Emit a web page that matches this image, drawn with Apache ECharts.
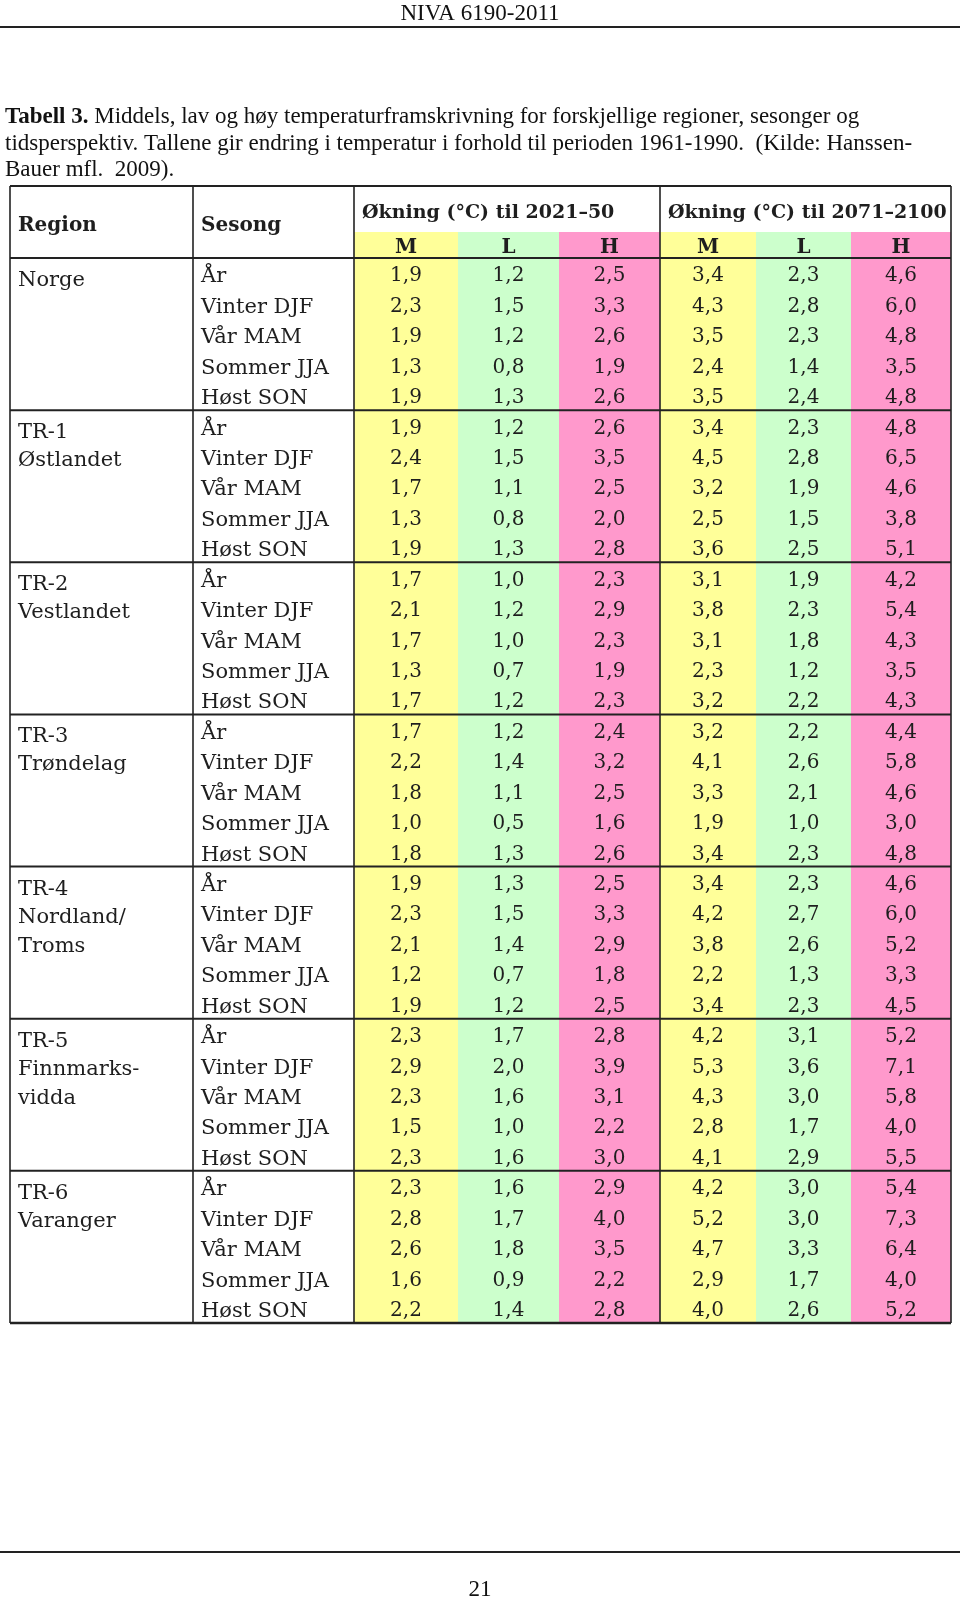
<!DOCTYPE html>
<html>
<head>
<meta charset="utf-8">
<script src="https://cdn.jsdelivr.net/npm/echarts@6.0.0/dist/echarts.min.js"></script>
<style>
  html, body { margin: 0; padding: 0; background: #fff; }
  #chart { width: 960px; height: 1597px; }
</style>
</head>
<body>
<div id="chart"></div>
<script>
// Tabell 3 - temperaturframskrivning (endring i forhold til 1961-1990)
const regions = ['Norge', 'TR-1\nØstlandet', 'TR-2\nVestlandet', 'TR-3\nTrøndelag', 'TR-4\nNordland/\nTroms', 'TR-5\nFinnmarks-\nvidda', 'TR-6\nVaranger'];
const seasons = ['År', 'Vinter DJF', 'Vår MAM', 'Sommer JJA', 'Høst SON'];
const periods = ['Økning (°C) til 2021–50', 'Økning (°C) til 2071–2100'];
const scenarios = ['M', 'L', 'H'];

// en verdi per rad: 7 regioner x 5 sesonger
const m2050 = [1.9, 2.3, 1.9, 1.3, 1.9,  1.9, 2.4, 1.7, 1.3, 1.9,  1.7, 2.1, 1.7, 1.3, 1.7,  1.7, 2.2, 1.8, 1.0, 1.8,  1.9, 2.3, 2.1, 1.2, 1.9,  2.3, 2.9, 2.3, 1.5, 2.3,  2.3, 2.8, 2.6, 1.6, 2.2];
const l2050 = [1.2, 1.5, 1.2, 0.8, 1.3,  1.2, 1.5, 1.1, 0.8, 1.3,  1.0, 1.2, 1.0, 0.7, 1.2,  1.2, 1.4, 1.1, 0.5, 1.3,  1.3, 1.5, 1.4, 0.7, 1.2,  1.7, 2.0, 1.6, 1.0, 1.6,  1.6, 1.7, 1.8, 0.9, 1.4];
const h2050 = [2.5, 3.3, 2.6, 1.9, 2.6,  2.6, 3.5, 2.5, 2.0, 2.8,  2.3, 2.9, 2.3, 1.9, 2.3,  2.4, 3.2, 2.5, 1.6, 2.6,  2.5, 3.3, 2.9, 1.8, 2.5,  2.8, 3.9, 3.1, 2.2, 3.0,  2.9, 4.0, 3.5, 2.2, 2.8];
const m2100 = [3.4, 4.3, 3.5, 2.4, 3.5,  3.4, 4.5, 3.2, 2.5, 3.6,  3.1, 3.8, 3.1, 2.3, 3.2,  3.2, 4.1, 3.3, 1.9, 3.4,  3.4, 4.2, 3.8, 2.2, 3.4,  4.2, 5.3, 4.3, 2.8, 4.1,  4.2, 5.2, 4.7, 2.9, 4.0];
const l2100 = [2.3, 2.8, 2.3, 1.4, 2.4,  2.3, 2.8, 1.9, 1.5, 2.5,  1.9, 2.3, 1.8, 1.2, 2.2,  2.2, 2.6, 2.1, 1.0, 2.3,  2.3, 2.7, 2.6, 1.3, 2.3,  3.1, 3.6, 3.0, 1.7, 2.9,  3.0, 3.0, 3.3, 1.7, 2.6];
const h2100 = [4.6, 6.0, 4.8, 3.5, 4.8,  4.8, 6.5, 4.6, 3.8, 5.1,  4.2, 5.4, 4.3, 3.5, 4.3,  4.4, 5.8, 4.6, 3.0, 4.8,  4.6, 6.0, 5.2, 3.3, 4.5,  5.2, 7.1, 5.8, 4.0, 5.5,  5.4, 7.3, 6.4, 4.0, 5.2];

const values = [m2050, l2050, h2050, m2100, l2100, h2100];

// layout
const colEdges = [0, 183, 344, 448, 549, 650, 746, 841, 941];
const head1 = 46, headH = 72, tableW = 941, tableH = 1137;
const nRows = regions.length * seasons.length;
const rowH = (tableH - headH) / nRows;
const fills = ['#ffff99', '#ccffcc', '#ff99cc'];
const numFont = '20px "DejaVu Serif", serif';
const txtFont = '21px "DejaVu Serif", serif';
const headFont = 'bold 20px "DejaVu Serif", serif';
const periodFont = 'bold 19px "DejaVu Serif", serif';
const ink = '#1e1e1e';
const times = '"Liberation Serif", "Times New Roman", serif';

const cellData = [];
values.forEach((col, j) => col.forEach((v, r) => cellData.push([j, r, v])));
const seasonData = [];
regions.forEach((reg, g) => seasons.forEach((s, k) => seasonData.push([g * seasons.length + k])));
const headData = [];
for (let j = 0; j < 6; j++) headData.push([j]);

function box(api, x0, y0, x1, y1) {
  const a = api.coord([x0, y0]);
  const b = api.coord([x1, y1]);
  return { x: Math.round(a[0]), y: Math.round(a[1]), w: Math.round(b[0]) - Math.round(a[0]), h: Math.round(b[1]) - Math.round(a[1]) };
}

const chart = echarts.init(document.getElementById('chart'));

const option = {
  animation: false,
  title: [
    { text: 'NIVA 6190-2011', left: 'center', top: -3, textStyle: { fontFamily: times, fontSize: 23, fontWeight: 'normal', color: '#111' } },
    {
      text: '{b|Tabell 3.} Middels, lav og høy temperaturframskrivning for forskjellige regioner, sesonger og\n' +
        'tidsperspektiv. Tallene gir endring i temperatur i forhold til perioden 1961-1990.  (Kilde: Hanssen-\n' +
        'Bauer mfl.  2009).',
      left: 0, top: 99,
      textStyle: {
        fontFamily: times, fontSize: 23, fontWeight: 'normal', color: '#111', lineHeight: 26.5,
        rich: { b: { fontFamily: times, fontSize: 23, fontWeight: 'bold', color: '#111', lineHeight: 26.5 } }
      }
    },
    { text: '21', left: 'center', top: 1573, textStyle: { fontFamily: times, fontSize: 23, fontWeight: 'normal', color: '#111' } }
  ],
  graphic: [
    { type: 'line', shape: { x1: 0, y1: 27, x2: 960, y2: 27 }, style: { stroke: '#222', lineWidth: 2 } },
    { type: 'line', shape: { x1: 0, y1: 1552, x2: 960, y2: 1552 }, style: { stroke: '#222', lineWidth: 2 } }
  ],
  grid: { left: 10, top: 186, width: tableW, height: tableH },
  xAxis: { type: 'value', min: 0, max: tableW, show: false },
  yAxis: { type: 'value', min: 0, max: tableH, inverse: true, show: false },
  series: [
    {
      // tallcellene
      type: 'custom',
      name: 'verdier',
      data: cellData,
      renderItem: (params, api) => {
        const j = api.value(0), r = api.value(1), v = api.value(2);
        const b = box(api, colEdges[j + 2], headH + r * rowH, colEdges[j + 3], headH + (r + 1) * rowH);
        return {
          type: 'group',
          children: [
            { type: 'rect', shape: { x: b.x, y: b.y, width: b.w, height: b.h }, style: { fill: fills[j % 3] } },
            { type: 'text', x: b.x + b.w / 2, y: b.y + b.h / 2 + 3,
              style: { text: v.toFixed(1).replace('.', ','), font: numFont, fill: ink, align: 'center', verticalAlign: 'middle' } }
          ]
        };
      }
    },
    {
      // M / L / H overskrifter
      type: 'custom',
      name: 'scenario',
      data: headData,
      renderItem: (params, api) => {
        const j = api.value(0);
        const b = box(api, colEdges[j + 2], head1, colEdges[j + 3], headH);
        return {
          type: 'group',
          children: [
            { type: 'rect', shape: { x: b.x, y: b.y, width: b.w, height: b.h }, style: { fill: fills[j % 3] } },
            { type: 'text', x: b.x + b.w / 2, y: b.y + b.h / 2 + 3,
              style: { text: scenarios[j % 3], font: headFont, fill: ink, align: 'center', verticalAlign: 'middle' } }
          ]
        };
      }
    },
    {
      // periodeoverskrifter
      type: 'custom',
      name: 'periode',
      data: periods.map((p, i) => [i]),
      renderItem: (params, api) => {
        const i = api.value(0);
        const b = box(api, colEdges[2 + i * 3], 0, colEdges[5 + i * 3], head1);
        return { type: 'text', x: b.x + 8, y: b.y + 27,
          style: { text: periods[i], font: periodFont, fill: ink, align: 'left', verticalAlign: 'middle' } };
      }
    },
    {
      // Region / Sesong overskrift
      type: 'custom',
      name: 'kolonner',
      data: [[0], [1]],
      renderItem: (params, api) => {
        const i = api.value(0);
        const b = box(api, colEdges[i], 0, colEdges[i + 1], headH);
        return { type: 'text', x: b.x + 8, y: b.y + 40,
          style: { text: i === 0 ? 'Region' : 'Sesong', font: headFont, fill: ink, align: 'left', verticalAlign: 'middle' } };
      }
    },
    {
      // sesongnavn
      type: 'custom',
      name: 'sesong',
      data: seasonData,
      renderItem: (params, api) => {
        const r = api.value(0);
        const b = box(api, colEdges[1], headH + r * rowH, colEdges[2], headH + (r + 1) * rowH);
        return { type: 'text', x: b.x + 8, y: b.y + b.h / 2 + 4,
          style: { text: seasons[r % seasons.length], font: txtFont, fill: ink, align: 'left', verticalAlign: 'middle' } };
      }
    },
    {
      // regionnavn
      type: 'custom',
      name: 'region',
      data: regions.map((r, g) => [g]),
      renderItem: (params, api) => {
        const g = api.value(0);
        const b = box(api, colEdges[0], headH + g * 5 * rowH, colEdges[1], headH + (g + 1) * 5 * rowH);
        return { type: 'text', x: b.x + 8, y: b.y + 8,
          style: { text: regions[g], font: txtFont, fill: ink, align: 'left', verticalAlign: 'top', lineHeight: 28.5 } };
      }
    },
    {
      // rammer
      type: 'custom',
      name: 'rammer',
      data: [[0]],
      z: 10,
      renderItem: (params, api) => {
        const lines = [];
        const tl = api.coord([0, 0]), br = api.coord([tableW, tableH]);
        const hline = (y, w) => {
          const p = api.coord([0, y]);
          lines.push({ type: 'line', shape: { x1: tl[0], y1: p[1], x2: br[0], y2: p[1] }, style: { stroke: '#222', lineWidth: w } });
        };
        const vline = (x, w) => {
          const p = api.coord([x, 0]);
          lines.push({ type: 'line', shape: { x1: p[0], y1: tl[1], x2: p[0], y2: br[1] }, style: { stroke: '#222', lineWidth: w } });
        };
        hline(0, 2);
        hline(headH, 2);
        for (let g = 1; g < regions.length; g++) hline(headH + g * 5 * rowH, 2);
        hline(tableH, 2.5);
        [0, colEdges[1], colEdges[2], colEdges[5], tableW].forEach((x) => vline(x, 1.6));
        return { type: 'group', children: lines };
      }
    }
  ]
};

chart.setOption(option);
</script>
</body>
</html>
